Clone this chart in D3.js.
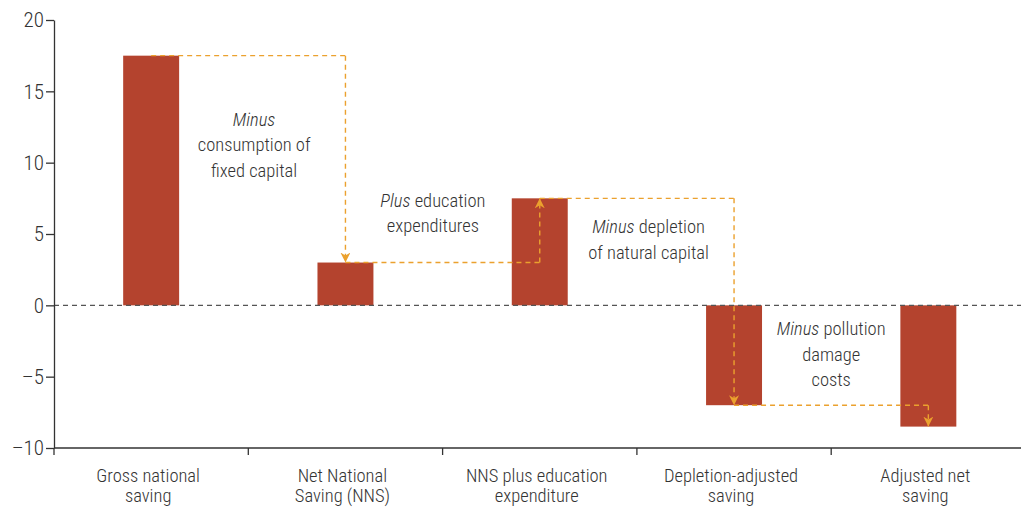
<!DOCTYPE html>
<html><head><meta charset="utf-8">
<script src="https://cdn.jsdelivr.net/npm/d3@7"></script>
<style>
body{margin:0;background:#fff;}
text{font-family:"Liberation Sans Narrow","Roboto Condensed","Arial Narrow",sans-serif;fill:#333;font-weight:300;}
</style></head><body>
<svg id="c" width="1021" height="508"></svg>
<script>
const categories = [["Gross national","saving"],["Net National","Saving (NNS)"],["NNS plus education","expenditure"],["Depletion-adjusted","saving"],["Adjusted net","saving"]];
const values = [17.5, 3, 7.5, -7, -8.5];
const yTicks = [-10, -5, 0, 5, 10, 15, 20];
const annotations = [
  {lines:[[["Minus",true]],[["consumption of",false]],[["fixed capital",false]]], cat:0.53, v:12.6},
  {lines:[[["Plus",true],[" education",false]],[["expenditures",false]]], cat:1.45, v:6.9},
  {lines:[[["Minus",true],[" depletion",false]],[["of natural capital",false]]], cat:2.56, v:5.07},
  {lines:[[["Minus",true],[" pollution",false]],[["damage",false]],[["costs",false]]], cat:3.5, v:-2.08}
];

const svg = d3.select("#c");
const x = d3.scaleBand().domain(d3.range(categories.length)).range([54, 1025.5]).padding(0);
const y = d3.scaleLinear().domain([-10, 20]).range([448, 20]);
const bw = x.bandwidth()*0.288;
const cx = i => x(i) + x.bandwidth()/2;
const orange = "#EBA12E";

svg.append("defs").append("marker").attr("id","arr").attr("viewBox","0 0 10 10")
  .attr("refX",10).attr("refY",5).attr("markerWidth",10).attr("markerHeight",10)
  .attr("markerUnits","userSpaceOnUse").attr("orient","auto")
  .append("path").attr("d","M0,0 L10,5 L0,10 L3,5 Z").attr("fill",orange);

svg.selectAll("rect.bar").data(values).join("rect").attr("class","bar")
  .attr("x",(d,i)=>cx(i)-bw/2).attr("width",bw)
  .attr("y",d=>y(Math.max(0,d))).attr("height",d=>Math.abs(y(d)-y(0)))
  .attr("fill","#B4432E");

svg.append("line").attr("x1",54).attr("x2",1021).attr("y1",y(0)).attr("y2",y(0))
  .attr("stroke","#555").attr("stroke-width",1.3).attr("stroke-dasharray","5,4");

for (let i=0;i<values.length-1;i++){
  svg.append("line").attr("x1",cx(i)).attr("x2",cx(i+1)).attr("y1",y(values[i])).attr("y2",y(values[i]))
    .attr("stroke",orange).attr("stroke-width",1.4).attr("stroke-dasharray","5,4");
  svg.append("line").attr("x1",cx(i+1)).attr("x2",cx(i+1)).attr("y1",y(values[i])).attr("y2",y(values[i+1]))
    .attr("stroke",orange).attr("stroke-width",1.4).attr("stroke-dasharray","5,4")
    .attr("marker-end","url(#arr)");
}

const ya = svg.append("g").attr("transform","translate(54,0)")
  .call(d3.axisLeft(y).tickValues(yTicks).tickSize(8).tickSizeOuter(0).tickFormat(d=>d<0?"\u2013"+Math.abs(d):d));
ya.select(".domain").attr("stroke","#333").attr("stroke-width",1.3);
ya.selectAll(".tick line").attr("stroke","#333").attr("stroke-width",1.3);
ya.selectAll(".tick text").attr("font-size",21).attr("x",-10).attr("fill","#333");

const xa = svg.append("g");
xa.append("line").attr("x1",54).attr("x2",1021).attr("y1",448).attr("y2",448).attr("stroke","#333").attr("stroke-width",1.3);
d3.range(categories.length).forEach(i=>{
  xa.append("line").attr("x1",x(i)).attr("x2",x(i)).attr("y1",448).attr("y2",455).attr("stroke","#333").attr("stroke-width",1.3);
});
categories.forEach((c,i)=>{
  c.forEach((l,j)=>{
    xa.append("text").attr("x",cx(i)-3).attr("y",482+j*20).attr("text-anchor","middle").attr("font-size",18.5).text(l);
  });
});

annotations.forEach(a=>{
  const ax = x(0) + a.cat*x.bandwidth() + x.bandwidth()/2;
  a.lines.forEach((ln,j)=>{
    const t = svg.append("text").attr("x",ax).attr("y",y(a.v)+j*25.5).attr("text-anchor","middle").attr("font-size",18.5);
    ln.forEach(([s,it])=>t.append("tspan").attr("font-style",it?"italic":"normal").text(s));
  });
});
</script></body></html>
